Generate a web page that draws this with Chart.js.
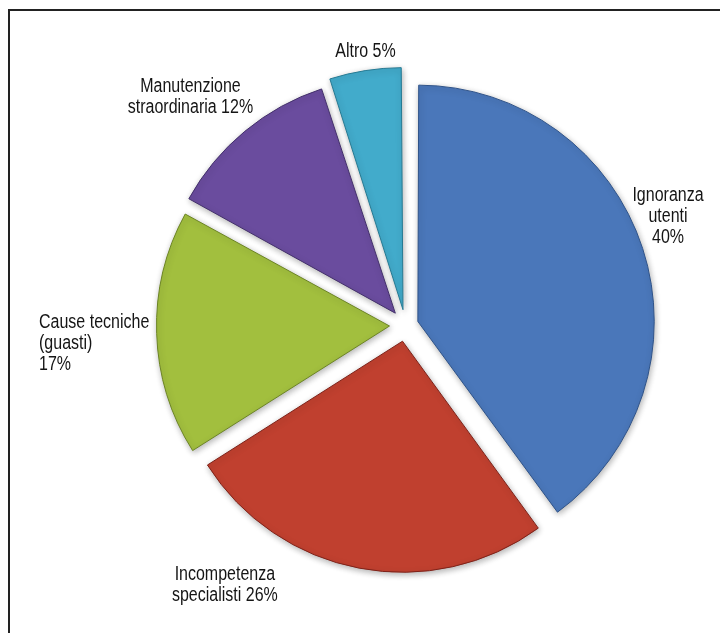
<!DOCTYPE html>
<html>
<head>
<meta charset="utf-8">
<script src="https://cdn.jsdelivr.net/npm/chart.js@4.4.1/dist/chart.umd.min.js"></script>
<style>
  html, body { margin: 0; padding: 0; background: #fff; }
  #wrap { position: relative; width: 720px; height: 633px; }
  #frame { position: absolute; left: 8px; top: 9px; right: 0; bottom: 0;
           border-top: 2px solid #222; border-left: 2px solid #222; }
  canvas { position: absolute; left: 0; top: 0; }
</style>
</head>
<body>
<div id="wrap">
  <div id="frame"></div>
  <canvas id="pie" width="720" height="633"></canvas>
</div>
<script>
// data
const labels = [
    ['Ignoranza', 'utenti', '40%'],
    ['Incompetenza', 'specialisti 26%'],
    ['Cause tecniche', '(guasti)', '17%'],
    ['Manutenzione', 'straordinaria 12%'],
    ['Altro 5%']
];
const values = [40, 26, 17, 12, 5];

const colors = ['#4a77ba', '#c0402f', '#a2bf3e', '#6a4c9e', '#42abcb'];
const borders = ['#2f5389', '#7e2219', '#6c8424', '#43306b', '#267a93'];

// label placement relative to each slice: angle nudge (deg), distance in radii, text align
const labelLayout = [
    { da: -4.5, k: 1.23, align: 'center' },
    { da: 24,   k: 1.37, align: 'center' },
    { da: -1.5, k: 1.35, align: 'left' },
    { da: -3.6, k: 1.36, align: 'center' },
    { da: 0.7,  k: 1.2,  align: 'center' }
];

const shadowPlugin = {
    id: 'shadow',
    beforeDatasetDraw(chart) {
        const ctx = chart.ctx;
        ctx.save();
        ctx.shadowColor = 'rgba(0,0,0,0.3)';
        ctx.shadowBlur = 6;
        ctx.shadowOffsetX = 1;
        ctx.shadowOffsetY = 2;
    },
    afterDatasetDraw(chart) {
        chart.ctx.restore();
    }
};

// text is drawn narrowed to look like the condensed face of the original
const squeeze = 0.8;

const outLabels = {
    id: 'outLabels',
    afterDraw(chart) {
        const ctx = chart.ctx;
        const arcs = chart.getDatasetMeta(0).data;
        ctx.save();
        ctx.font = '20px "Liberation Sans", Arial, sans-serif';
        ctx.fillStyle = '#151515';
        ctx.textBaseline = 'middle';
        const lh = 21;
        arcs.forEach((arc, i) => {
            const lay = labelLayout[i];
            const mid = (arc.startAngle + arc.endAngle) / 2 + lay.da * Math.PI / 180;
            const d = arc.outerRadius * lay.k;
            const cx = arc.x + Math.cos(mid) * d;
            const cy = arc.y + Math.sin(mid) * d;
            const lines = labels[i];
            const w = Math.max(...lines.map(l => ctx.measureText(l).width)) * squeeze;
            const y0 = cy - (lines.length - 1) * lh / 2;
            lines.forEach((line, j) => {
                ctx.save();
                const x = lay.align === 'left' ? cx - w / 2 : cx;
                ctx.translate(x, y0 + j * lh);
                ctx.scale(squeeze, 1);
                ctx.textAlign = lay.align;
                ctx.fillText(line, 0, 0);
                ctx.restore();
            });
        });
        ctx.restore();
    }
};

new Chart(document.getElementById('pie'), {
    type: 'pie',
    data: {
        labels: labels.map(l => l.join(' ')),
        datasets: [{
            data: values,
            backgroundColor: colors,
            borderColor: borders,
            borderWidth: 1,
            // Chart.js moves an arc by offset / 4 pixels
            offset: [52, 64, 64, 64, 64]
        }]
    },
    options: {
        responsive: false,
        animation: false,
        layout: { padding: { left: 142, right: 51, top: 62, bottom: 44 } },
        plugins: {
            legend: { display: false },
            tooltip: { enabled: false }
        }
    },
    plugins: [shadowPlugin, outLabels]
});
</script>
</body>
</html>
